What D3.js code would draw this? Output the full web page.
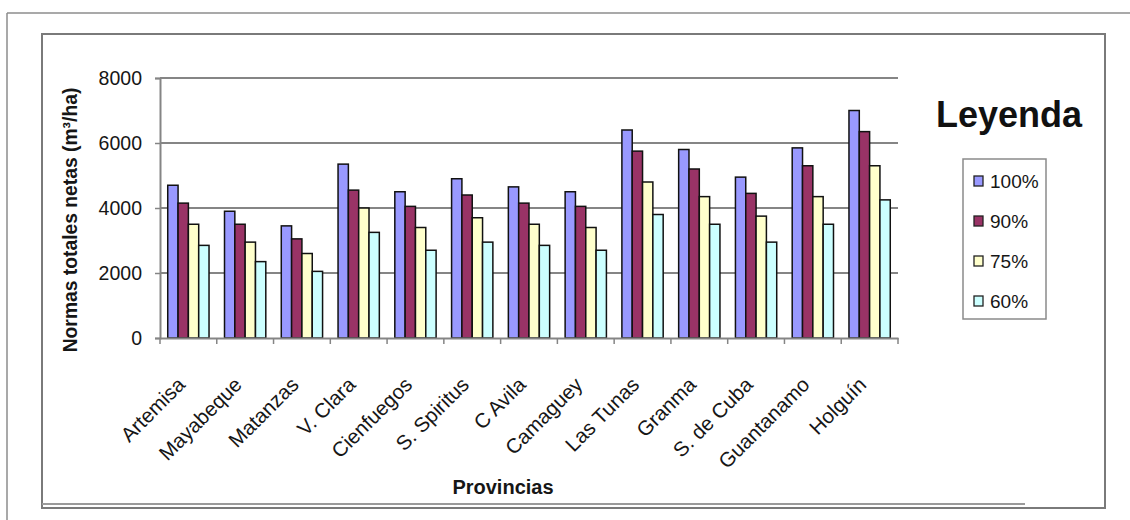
<!DOCTYPE html>
<html>
<head>
<meta charset="utf-8">
<script src="https://cdn.jsdelivr.net/npm/d3@7"></script>
<style>
  html, body { margin: 0; padding: 0; background: #ffffff; }
  svg { display: block; font-family: "Liberation Sans", Arial, sans-serif; }
</style>
</head>
<body>
<svg id="chart" width="1130" height="520"></svg>
<script>
// Provinces and net total irrigation norms (m³/ha) per supply level
const provincias = ["Artemisa", "Mayabeque", "Matanzas", "V. Clara", "Cienfuegos", "S. Spiritus",
  "C Avila", "Camaguey", "Las Tunas", "Granma", "S. de Cuba", "Guantanamo", "Holguín"];
const series = ["100%", "90%", "75%", "60%"];
const v100 = [4700, 3900, 3450, 5350, 4500, 4900, 4650, 4500, 6400, 5800, 4950, 5850, 7000];
const v90  = [4150, 3500, 3050, 4550, 4050, 4400, 4150, 4050, 5750, 5200, 4450, 5300, 6350];
const v75  = [3500, 2950, 2600, 4000, 3400, 3700, 3500, 3400, 4800, 4350, 3750, 4350, 5300];
const v60  = [2850, 2350, 2050, 3250, 2700, 2950, 2850, 2700, 3800, 3500, 2950, 3500, 4250];
const yTicks = [0, 2000, 4000, 6000, 8000];
const colors = ["#9999ff", "#993366", "#ffffcc", "#ccffff"];

const values = [v100, v90, v75, v60];
const svg = d3.select("#chart");
const grey = "#858585";
const ink = "#161616";

// Frames around the figure
svg.append("line").attr("x1", 7).attr("x2", 1130).attr("y1", 13).attr("y2", 13)
  .attr("stroke", "#8c8c8c").attr("stroke-width", 1.5);
svg.append("line").attr("x1", 7).attr("x2", 7).attr("y1", 13).attr("y2", 520)
  .attr("stroke", "#8c8c8c").attr("stroke-width", 1.5);
svg.append("rect").attr("x", 42).attr("y", 34).attr("width", 1063).attr("height", 474)
  .attr("fill", "#fff").attr("stroke", "#7a7a7a").attr("stroke-width", 2);
svg.append("line").attr("x1", 42).attr("x2", 1025).attr("y1", 504).attr("y2", 504)
  .attr("stroke", "#9a9a9a").attr("stroke-width", 2);

// Scales: each province band holds four bars plus a 150% gap
const x0 = d3.scaleBand().domain(provincias).range([160, 898]).paddingInner(0).paddingOuter(0);
const barW = x0.bandwidth() / 5.5;
const groupOffset = barW * 0.75;
const y = d3.scaleLinear().domain([0, 8000]).range([338, 78]);

// Gridlines
svg.append("g").selectAll("line").data(yTicks.filter(d => d > 0)).join("line")
  .attr("x1", 160).attr("x2", 898)
  .attr("y1", d => y(d)).attr("y2", d => y(d))
  .attr("stroke", grey).attr("stroke-width", 2);

// Y axis
const yAxis = d3.axisLeft(y).tickValues(yTicks).tickSize(5).tickPadding(13).tickFormat(d3.format("d"));
const gy = svg.append("g").attr("transform", "translate(160,0)").call(yAxis);
gy.select(".domain").attr("stroke", grey).attr("stroke-width", 2);
gy.selectAll(".tick line").attr("stroke", grey).attr("stroke-width", 1.5);
gy.selectAll(".tick text").attr("font-size", 19.5).attr("fill", ink)
  .attr("font-family", "Liberation Sans, Arial, sans-serif");

// Bars
const groups = svg.append("g").selectAll("g").data(provincias).join("g")
  .attr("transform", d => `translate(${x0(d) + groupOffset},0)`);
groups.selectAll("rect").data((d, i) => series.map((s, k) => ({ k, v: values[k][i] }))).join("rect")
  .attr("x", d => d.k * barW)
  .attr("y", d => y(d.v))
  .attr("width", barW)
  .attr("height", d => y(0) - y(d.v))
  .attr("fill", d => colors[d.k])
  .attr("stroke", "#111").attr("stroke-width", 1.5);

// X axis with tick marks at band boundaries
const xAxis = d3.axisBottom(x0).tickSize(0).tickFormat("");
const gx = svg.append("g").attr("transform", "translate(0,338)").call(xAxis);
gx.select(".domain").attr("stroke", grey).attr("stroke-width", 2);
gx.selectAll(".tick").remove();
const boundaries = provincias.map(p => x0(p)).concat([x0(provincias[provincias.length - 1]) + x0.bandwidth()]);
svg.append("g").selectAll("line").data(boundaries).join("line")
  .attr("x1", d => d).attr("x2", d => d).attr("y1", 338).attr("y2", 344)
  .attr("stroke", grey).attr("stroke-width", 1.5);

// Rotated category labels
svg.append("g").selectAll("text").data(provincias).join("text")
  .attr("transform", d => `translate(${x0(d) + x0.bandwidth() / 2 - 2},386) rotate(-45)`)
  .attr("text-anchor", "end")
  .attr("font-size", 20.5).attr("fill", ink)
  .text(d => d);

// Axis titles
svg.append("text").attr("x", 503).attr("y", 494).attr("text-anchor", "middle")
  .attr("font-size", 20).attr("font-weight", "bold").attr("fill", ink)
  .text("Provincias");
svg.append("text").attr("transform", "translate(77,220) rotate(-90)").attr("text-anchor", "middle")
  .attr("font-size", 19.3).attr("font-weight", "bold").attr("fill", ink)
  .text("Normas totales netas (m³/ha)");

// Legend
svg.append("text").attr("x", 1009).attr("y", 127).attr("text-anchor", "middle")
  .attr("font-size", 36).attr("font-weight", "bold").attr("fill", "#111")
  .text("Leyenda");
svg.append("rect").attr("x", 963).attr("y", 159).attr("width", 83).attr("height", 160)
  .attr("fill", "#fff").attr("stroke", "#8a8a8a").attr("stroke-width", 1.5);
const leg = svg.append("g").selectAll("g").data(series).join("g")
  .attr("transform", (d, i) => `translate(974,${181 + i * 40})`);
leg.append("rect").attr("x", 0).attr("y", -5).attr("width", 9).attr("height", 10)
  .attr("fill", (d, i) => colors[i]).attr("stroke", "#222").attr("stroke-width", 1.3);
leg.append("text").attr("x", 16).attr("y", 7).attr("font-size", 19).attr("fill", ink)
  .text(d => d);
</script>
</body>
</html>
